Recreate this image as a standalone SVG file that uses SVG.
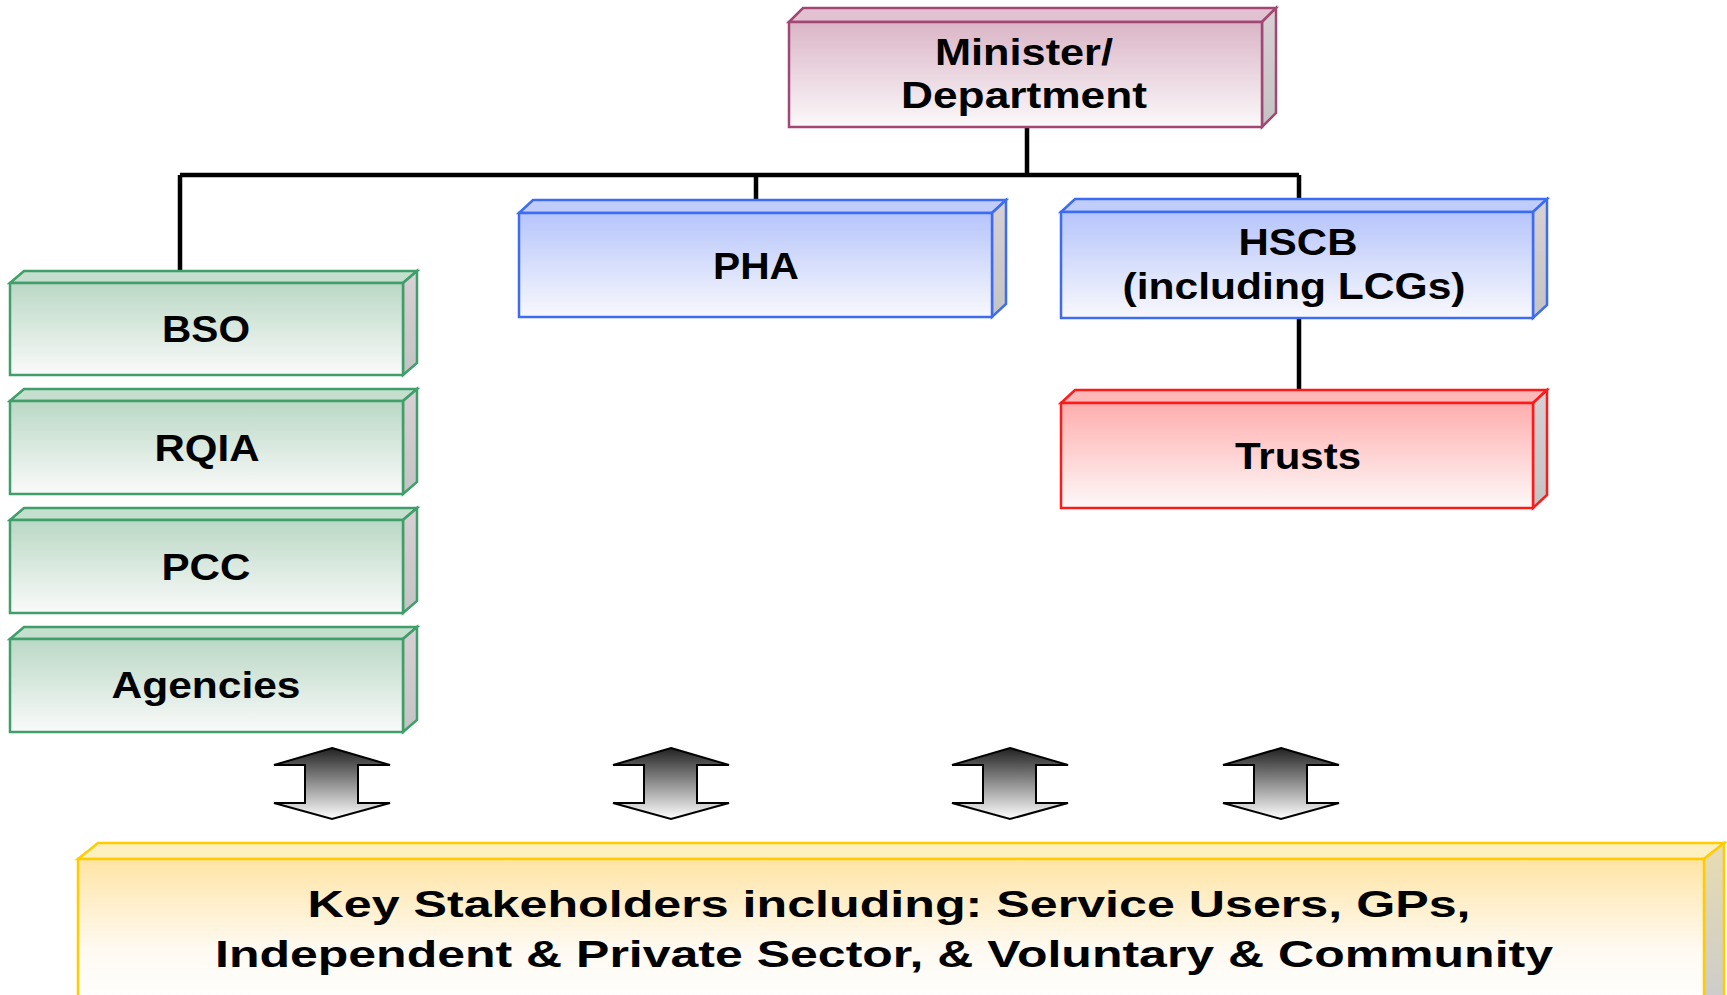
<svg xmlns="http://www.w3.org/2000/svg" width="1727" height="995" viewBox="0 0 1727 995">
<defs>
<linearGradient id="gM" x1="0" y1="0" x2="0" y2="1"><stop offset="0" stop-color="#dab5c6"/><stop offset="1" stop-color="#fbf9fa"/></linearGradient>
<linearGradient id="gG" x1="0" y1="0" x2="0" y2="1"><stop offset="0" stop-color="#bad8c5"/><stop offset="1" stop-color="#fafafa"/></linearGradient>
<linearGradient id="gB" x1="0" y1="0" x2="0" y2="1"><stop offset="0" stop-color="#b6c5fb"/><stop offset="1" stop-color="#f8f8fc"/></linearGradient>
<linearGradient id="gR" x1="0" y1="0" x2="0" y2="1"><stop offset="0" stop-color="#ffadad"/><stop offset="1" stop-color="#fdf9f9"/></linearGradient>
<linearGradient id="gY" x1="0" y1="0" x2="0" y2="1"><stop offset="0" stop-color="#ffe4a4"/><stop offset="0.6" stop-color="#fefaf2"/><stop offset="1" stop-color="#ffffff"/></linearGradient>
<linearGradient id="gS" x1="0" y1="0" x2="0" y2="1"><stop offset="0" stop-color="#d8d0d4"/><stop offset="1" stop-color="#c4c4c4"/></linearGradient>
<linearGradient id="gYS" x1="0" y1="0" x2="0" y2="1"><stop offset="0" stop-color="#e8dcb0"/><stop offset="1" stop-color="#cccccc"/></linearGradient>
<linearGradient id="gA" x1="0" y1="0" x2="0" y2="1"><stop offset="0" stop-color="#222222"/><stop offset="1" stop-color="#ffffff"/></linearGradient>
</defs>
<style>
text{font-family:"Liberation Sans",Arial,sans-serif;font-weight:bold;font-size:36px;fill:#000;text-anchor:middle}
.m{stroke:#a24774;stroke-width:2.5}
.g{stroke:#3f9e6a;stroke-width:2.5}
.b{stroke:#3d6cf3;stroke-width:2.5}
.r{stroke:#ff1a1a;stroke-width:2.5}
.y{stroke:#ffcc00;stroke-width:2.5}
.side{fill:url(#gS)}
.conn{stroke:#000;stroke-width:4.5;fill:none}
.arr{fill:url(#gA);stroke:#000;stroke-width:2}
</style>
<g id="connectors">
<path class="conn" d="M1027 127V175M180 175H1299M180 175V271M756 175V200M1299 175V200M1299 318V390"/>
</g>
<g id="minister">
<polygon class="m" fill="#e2c2d1" points="789,22 803,8 1276,8 1262,22"/>
<polygon class="m side" points="1262,22 1276,8 1276,113 1262,127"/>
<rect class="m" x="789" y="22" width="473" height="105" fill="url(#gM)"/>
<text x="1024" y="65" textLength="178" lengthAdjust="spacingAndGlyphs">Minister/</text>
<text x="1024" y="108" textLength="246" lengthAdjust="spacingAndGlyphs">Department</text>
</g>
<g id="pha">
<polygon class="b" fill="#c0cdfb" points="519,213 533,200 1006,200 992,213"/>
<polygon class="b side" points="992,213 1006,200 1006,304 992,317"/>
<rect class="b" x="519" y="213" width="473" height="104" fill="url(#gB)"/>
<text x="756" y="279" textLength="86" lengthAdjust="spacingAndGlyphs">PHA</text>
</g>
<g id="hscb">
<polygon class="b" fill="#c0cdfb" points="1061,212 1075,199 1547,199 1533,212"/>
<polygon class="b side" points="1533,212 1547,199 1547,305 1533,318"/>
<rect class="b" x="1061" y="212" width="472" height="106" fill="url(#gB)"/>
<text x="1298" y="255" textLength="119" lengthAdjust="spacingAndGlyphs">HSCB</text>
<text x="1294" y="299" textLength="343" lengthAdjust="spacingAndGlyphs">(including LCGs)</text>
</g>
<g id="trusts">
<polygon class="r" fill="#ffb8b8" points="1061,403 1075,390 1547,390 1533,403"/>
<polygon class="r side" points="1533,403 1547,390 1547,495 1533,508"/>
<rect class="r" x="1061" y="403" width="472" height="105" fill="url(#gR)"/>
<text x="1298" y="469" textLength="126" lengthAdjust="spacingAndGlyphs">Trusts</text>
</g>
<g id="bso">
<polygon class="g" fill="#c4dfce" points="10,283 24,271 417,271 403,283"/>
<polygon class="g side" points="403,283 417,271 417,363 403,375"/>
<rect class="g" x="10" y="283" width="393" height="92" fill="url(#gG)"/>
<text x="206" y="342" textLength="88" lengthAdjust="spacingAndGlyphs">BSO</text>
</g>
<g id="rqia">
<polygon class="g" fill="#c4dfce" points="10,401 24,389 417,389 403,401"/>
<polygon class="g side" points="403,401 417,389 417,482 403,494"/>
<rect class="g" x="10" y="401" width="393" height="93" fill="url(#gG)"/>
<text x="207" y="461" textLength="105" lengthAdjust="spacingAndGlyphs">RQIA</text>
</g>
<g id="pcc">
<polygon class="g" fill="#c4dfce" points="10,520 24,508 417,508 403,520"/>
<polygon class="g side" points="403,520 417,508 417,601 403,613"/>
<rect class="g" x="10" y="520" width="393" height="93" fill="url(#gG)"/>
<text x="206" y="580" textLength="89" lengthAdjust="spacingAndGlyphs">PCC</text>
</g>
<g id="agencies">
<polygon class="g" fill="#c4dfce" points="10,639 24,627 417,627 403,639"/>
<polygon class="g side" points="403,639 417,627 417,720 403,732"/>
<rect class="g" x="10" y="639" width="393" height="93" fill="url(#gG)"/>
<text x="206" y="698" textLength="189" lengthAdjust="spacingAndGlyphs">Agencies</text>
</g>
<g id="arrows">
<polygon class="arr" points="332,748 390,765 358,765 358,803 390,803 332,819 274,803 305,803 305,765 274,765"/>
<polygon class="arr" points="671,748 729,765 697,765 697,803 729,803 671,819 613,803 644,803 644,765 613,765"/>
<polygon class="arr" points="1010,748 1068,765 1036,765 1036,803 1068,803 1010,819 952,803 983,803 983,765 952,765"/>
<polygon class="arr" points="1281,748 1339,765 1307,765 1307,803 1339,803 1281,819 1223,803 1254,803 1254,765 1223,765"/>
</g>
<g id="stakeholders">
<polygon class="y" fill="#fff0c2" points="78,859 98,843 1724,843 1704,859"/>
<polygon class="y" fill="url(#gYS)" points="1704,859 1724,843 1724,1000 1704,1000"/>
<rect class="y" x="78" y="859" width="1626" height="150" fill="url(#gY)"/>
<text x="889" y="917" textLength="1163" lengthAdjust="spacingAndGlyphs">Key Stakeholders including: Service Users, GPs,</text>
<text x="884" y="967" textLength="1338" lengthAdjust="spacingAndGlyphs">Independent &amp; Private Sector, &amp; Voluntary &amp; Community</text>
</g>
</svg>
